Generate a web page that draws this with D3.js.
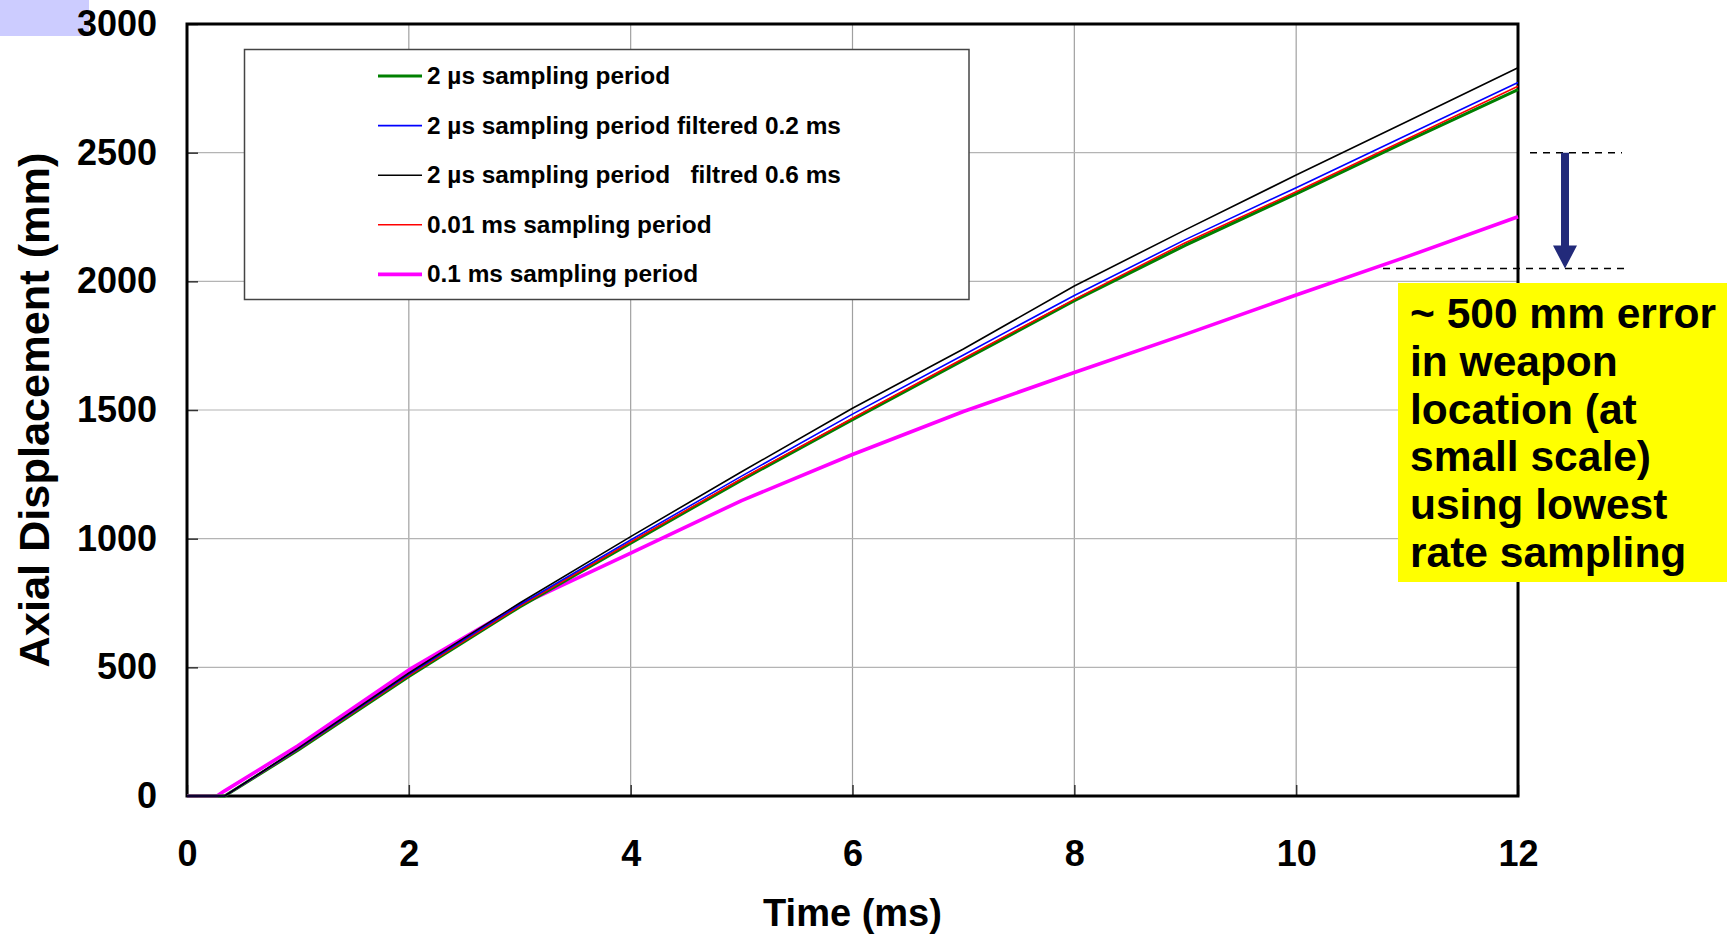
<!DOCTYPE html>
<html>
<head>
<meta charset="utf-8">
<script src="https://cdn.jsdelivr.net/npm/d3@7"></script>
<style>
  html, body { margin: 0; padding: 0; background: #ffffff; }
  svg { display: block; font-family: "Liberation Sans", Arial, sans-serif; }
</style>
</head>
<body>
<svg id="chart" width="1727" height="935"></svg>
<script>
// Time axis samples (ms)
const time = [0, 0.27, 0.34, 1, 2, 3, 4, 5, 6, 7, 8, 9, 10, 11, 12];

// Axial displacement (mm) for each acquisition setting
const us2Raw      = [0, 0, 0, 178, 465, 735, 983, 1228, 1463, 1694, 1925, 2140, 2340, 2545, 2745];
const us2Filt02   = [0, 0, 0, 182, 473, 743, 995, 1243, 1484, 1714, 1945, 2162, 2364, 2569, 2773];
const us2Filt06   = [0, 0, 0, 185, 478, 750, 1008, 1260, 1507, 1737, 1982, 2200, 2413, 2621, 2830];
const ms001       = [0, 0, 0, 180, 468, 738, 987, 1233, 1468, 1700, 1930, 2150, 2348, 2553, 2758];
const ms01        = [0, 0, 20, 195, 490, 742, 944, 1148, 1327, 1494, 1646, 1794, 1947, 2096, 2251];

const seriesNames = [
  "2 \u00b5s sampling period",
  "2 \u00b5s sampling period filtered 0.2 ms",
  "2 \u00b5s sampling period   filtred 0.6 ms",
  "0.01 ms sampling period",
  "0.1 ms sampling period"
];

const xTicks = [0, 2, 4, 6, 8, 10, 12];
const yTicks = [0, 500, 1000, 1500, 2000, 2500, 3000];

// Error band shown on the right: reference level and low-rate level (mm)
const errorLevels = [2500, 2050];
const noteLines = ["~ 500 mm error", "in weapon", "location (at", "small scale)", "using lowest", "rate sampling"];

const series = [
  { name: seriesNames[0], values: us2Raw,    color: "#008000", width: 3.2 },
  { name: seriesNames[1], values: us2Filt02, color: "#0000ff", width: 1.6 },
  { name: seriesNames[2], values: us2Filt06, color: "#000000", width: 1.6 },
  { name: seriesNames[3], values: ms001,     color: "#ff0000", width: 1.6 },
  { name: seriesNames[4], values: ms01,      color: "#ff00ff", width: 3.6 }
];

const svg = d3.select("#chart");
const plot = { left: 187, right: 1518, top: 24, bottom: 796 };

const x = d3.scaleLinear().domain([0, 12]).range([plot.left, plot.right]);
const y = d3.scaleLinear().domain([0, 3000]).range([plot.bottom, plot.top]);

// small shaded block in the top-left corner
svg.append("rect").attr("x", 0).attr("y", 0).attr("width", 89).attr("height", 36).attr("fill", "#ccccff");

// grid
const grid = svg.append("g");
grid.selectAll("line.v").data(xTicks.slice(1, -1)).join("line")
  .attr("x1", d => x(d)).attr("x2", d => x(d))
  .attr("y1", plot.top).attr("y2", plot.bottom)
  .attr("stroke", "#a0a0a0").attr("stroke-width", 1.2);
grid.selectAll("line.h").data(yTicks.slice(1, -1)).join("line")
  .attr("x1", plot.left).attr("x2", plot.right)
  .attr("y1", d => y(d)).attr("y2", d => y(d))
  .attr("stroke", "#b4b4b4").attr("stroke-width", 1.2);

// axes with inward ticks
const xAxis = svg.append("g").attr("transform", `translate(0,${plot.bottom})`)
  .call(d3.axisBottom(x).tickValues(xTicks).tickSizeInner(-11).tickSizeOuter(0).tickPadding(44).tickFormat(d3.format("d")));
const yAxis = svg.append("g").attr("transform", `translate(${plot.left},0)`)
  .call(d3.axisLeft(y).tickValues(yTicks).tickSizeInner(-11).tickSizeOuter(0).tickPadding(30).tickFormat(d3.format("d")));
[xAxis, yAxis].forEach(a => {
  a.select(".domain").remove();
  a.selectAll(".tick line").attr("stroke", "#333").attr("stroke-width", 1.5);
  a.selectAll(".tick text").attr("font-size", 36).attr("font-weight", "bold").attr("fill", "#000")
    .attr("font-family", "'Liberation Sans', Arial, sans-serif");
});
xAxis.selectAll(".tick text").attr("dy", "0.71em");

// plot frame
svg.append("rect")
  .attr("x", plot.left).attr("y", plot.top)
  .attr("width", plot.right - plot.left).attr("height", plot.bottom - plot.top)
  .attr("fill", "none").attr("stroke", "#000").attr("stroke-width", 3);

// lines
const line = d3.line().x((d, i) => x(time[i])).y(d => y(d));
const drawOrder = [4, 0, 3, 1, 2];
svg.append("g").selectAll("path").data(drawOrder.map(i => series[i])).join("path")
  .attr("d", d => line(d.values))
  .attr("fill", "none")
  .attr("stroke", d => d.color)
  .attr("stroke-width", d => d.width)
  .attr("stroke-linejoin", "round");

// legend
const legend = svg.append("g");
legend.append("rect").attr("x", 244.5).attr("y", 49.5).attr("width", 724.5).attr("height", 250)
  .attr("fill", "#fff").attr("stroke", "#444").attr("stroke-width", 1.5);
const rowY = i => 76 + i * 49.6;
series.forEach((s, i) => {
  legend.append("line").attr("x1", 378).attr("x2", 422).attr("y1", rowY(i)).attr("y2", rowY(i))
    .attr("stroke", s.color).attr("stroke-width", s.width);
  legend.append("text").attr("x", 427).attr("y", rowY(i) + 8)
    .attr("font-size", 24.4).attr("font-weight", "bold").attr("fill", "#000")
    .attr("xml:space", "preserve").style("white-space", "pre")
    .text(s.name);
});

// axis titles
svg.append("text").attr("x", (plot.left + plot.right) / 2).attr("y", 926)
  .attr("text-anchor", "middle").attr("font-size", 38).attr("font-weight", "bold").text("Time (ms)");
svg.append("text").attr("transform", "translate(49,410) rotate(-90)")
  .attr("text-anchor", "middle").attr("font-size", 43.3).attr("font-weight", "bold").text("Axial Displacement (mm)");

// error annotation: dashed levels and arrow
const ann = svg.append("g");
ann.append("line").attr("x1", 1530).attr("x2", 1622).attr("y1", y(errorLevels[0])).attr("y2", y(errorLevels[0]))
  .attr("stroke", "#000").attr("stroke-width", 1.5).attr("stroke-dasharray", "7,6");
ann.append("line").attr("x1", 1383).attr("x2", 1626).attr("y1", y(errorLevels[1])).attr("y2", y(errorLevels[1]))
  .attr("stroke", "#000").attr("stroke-width", 1.5).attr("stroke-dasharray", "7,6");
const ax = 1565, aTop = y(errorLevels[0]), aBot = y(errorLevels[1]), headH = 23;
ann.append("path")
  .attr("d", `M${ax - 4},${aTop} L${ax + 4},${aTop} L${ax + 4},${aBot - headH} L${ax + 12},${aBot - headH} L${ax},${aBot} L${ax - 12},${aBot - headH} L${ax - 4},${aBot - headH} Z`)
  .attr("fill", "#222a7a");

// note box
const note = svg.append("g");
note.append("rect").attr("x", 1398).attr("y", 283).attr("width", 329).attr("height", 299).attr("fill", "#ffff00");
note.selectAll("text").data(noteLines).join("text")
  .attr("x", 1410).attr("y", (d, i) => 328 + i * 47.8)
  .attr("font-size", 42.5).attr("font-weight", "bold").attr("fill", "#000")
  .text(d => d);
</script>
</body>
</html>
